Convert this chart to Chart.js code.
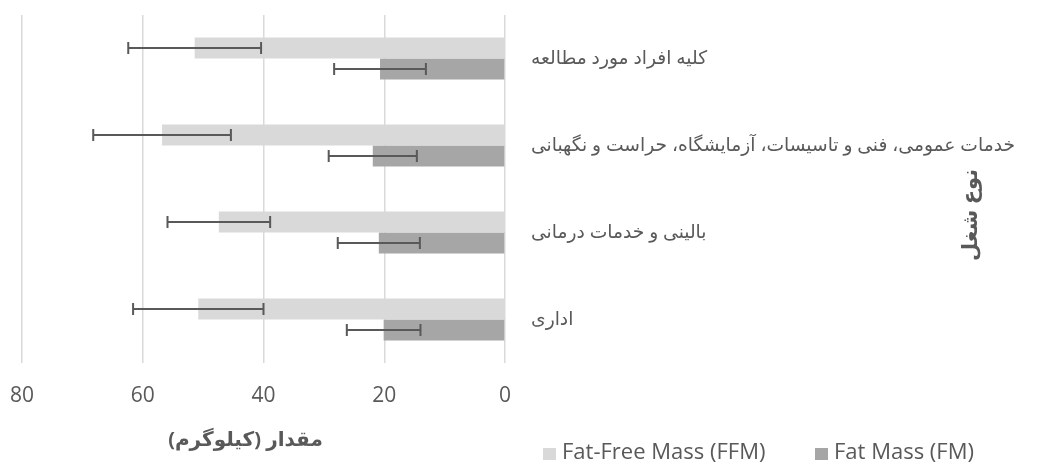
<!DOCTYPE html>
<html>
<head>
<meta charset="utf-8">
<script src="https://cdn.jsdelivr.net/npm/chart.js@4"></script>
<style>
  html, body { margin: 0; padding: 0; background: #fff; }
  #wrap { width: 1037px; height: 463px; }
</style>
</head>
<body>
<div id="wrap"><canvas id="body_chart"></canvas></div>
<script>
// Body composition by job type (mean +/- SD)

const jobs = ['کلیه افراد مورد مطالعه',
              'خدمات عمومی، فنی و تاسیسات، آزمایشگاه، حراست و نگهبانی',
              'بالینی و خدمات درمانی',
              'اداری'] ;
const ffmMean = [51.4, 56.8, 47.4, 50.8] ;
const ffmSd   = [11.0, 11.4, 8.5, 10.8] ;
const fmMean  = [20.7, 21.9, 20.9, 20.1] ;
const fmSd    = [7.6, 7.3, 6.8, 6.1] ;
const xTicks  = [0, 20, 40, 60, 80] ;

const seriesNames = ['Fat-Free Mass (FFM)', 'Fat Mass (FM)'] ;
const xTitle = 'مقدار (کیلوگرم)' ;
const yTitle = 'نوع شغل' ;

const FONT = "'Open Sans', 'DejaVu Sans', sans-serif" ;
const TXT = '#595959' ;

const ctx_body = document.getElementById('body_chart').getContext('2d') ;

// error bars drawn from the sd arrays
const errorBars = {
    id: 'errorBars',
    afterDatasetsDraw(chart) {
        const ctx = chart.ctx ;
        const xs = chart.scales.x ;
        ctx.save() ;
        ctx.strokeStyle = '#595959' ;
        ctx.lineWidth = 2 ;
        chart.data.datasets.forEach((ds, di) => {
            const meta = chart.getDatasetMeta(di) ;
            meta.data.forEach((bar, i) => {
                const m = ds.data[i], s = ds.sd[i] ;
                const x1 = xs.getPixelForValue(m - s) ;
                const x2 = xs.getPixelForValue(m + s) ;
                const y = bar.y ;
                ctx.beginPath() ;
                ctx.moveTo(x1, y) ; ctx.lineTo(x2, y) ;
                ctx.moveTo(x1, y - 6) ; ctx.lineTo(x1, y + 6) ;
                ctx.moveTo(x2, y - 6) ; ctx.lineTo(x2, y + 6) ;
                ctx.stroke() ;
            }) ;
        }) ;
        ctx.restore() ;
    }
} ;

// axis titles + legend, placed like the excel original
const legendX = [543, 815] ;
const extras = {
    id: 'extras',
    afterDraw(chart) {
        const ctx = chart.ctx ;
        const a = chart.chartArea ;
        ctx.save() ;
        ctx.fillStyle = TXT ;
        ctx.direction = 'rtl' ;
        ctx.font = 'bold 20px ' + FONT ;
        ctx.textAlign = 'center' ;
        ctx.textBaseline = 'middle' ;
        ctx.fillText(xTitle, (a.left + a.right) / 2 - 18, 440) ;

        ctx.font = 'bold 21px ' + FONT ;
        ctx.translate(971, 215) ;
        ctx.rotate(-Math.PI / 2) ;
        ctx.fillText(yTitle, 0, 0) ;
        ctx.restore() ;

        // legend
        ctx.save() ;
        ctx.font = '22px ' + FONT ;
        ctx.textBaseline = 'middle' ;
        ctx.textAlign = 'left' ;
        const ly = 453 ;
        chart.data.datasets.forEach((ds, di) => {
            const lx = legendX[di] ;
            ctx.fillStyle = ds.backgroundColor ;
            ctx.fillRect(lx, ly - 5, 13, 12) ;
            ctx.fillStyle = TXT ;
            ctx.fillText(ds.label, lx + 19, ly) ;
        }) ;
        ctx.restore() ;
    }
} ;

const body_chart = new Chart(ctx_body, {
    type: 'bar',
    data: {
        labels: jobs,
        datasets: [
            {
                label: seriesNames[0],
                data: ffmMean,
                sd: ffmSd,
                backgroundColor: '#d9d9d9',
                categoryPercentage: 0.48,
                barPercentage: 1.0,
            },
            {
                label: seriesNames[1],
                data: fmMean,
                sd: fmSd,
                backgroundColor: '#a6a6a6',
                categoryPercentage: 0.48,
                barPercentage: 1.0,
            }
        ]
    },
    options: {
        indexAxis: 'y',
        responsive: true,
        maintainAspectRatio: false,
        animation: false,
        layout: { padding: { left: 22, top: 15, right: 0, bottom: 0 } },
        scales: {
            x: {
                reverse: true,
                min: 0,
                max: 80,
                afterBuildTicks: (s) => { s.ticks = xTicks.map(v => ({ value: v })) ; },
                afterFit: (s) => { s.height = 100 ; s.paddingLeft = 0 ; s.paddingRight = 0 ; },
                grid: { color: '#d9d9d9', lineWidth: 1.5, drawTicks: false },
                border: { display: false },
                ticks: {
                    color: TXT,
                    font: { family: FONT, size: 21 },
                    padding: 20,
                    maxRotation: 0,
                },
            },
            y: {
                position: 'right',
                afterFit: (s) => { s.width = 532 ; s.paddingTop = 0 ; s.paddingBottom = 0 ; },
                grid: { display: false, drawTicks: false },
                border: { display: false },
                ticks: {
                    color: TXT,
                    font: { family: FONT, size: 18.7 },
                    padding: 26,
                },
            }
        },
        plugins: {
            legend: { display: false },
            tooltip: { enabled: false },
        }
    },
    plugins: [errorBars, extras]
}) ;
</script>
</body>
</html>
